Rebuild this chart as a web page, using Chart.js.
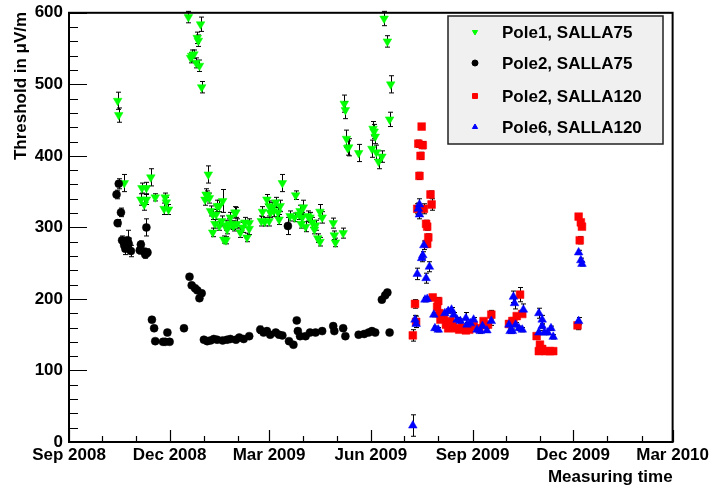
<!DOCTYPE html>
<html>
<head>
<meta charset="utf-8">
<script src="https://cdn.jsdelivr.net/npm/chart.js@4.4.0/dist/chart.umd.min.js"></script>
<style>
html, body { margin: 0; padding: 0; background: #fff; }
canvas { display: block; }
</style>
</head>
<body>
<canvas id="c" width="714" height="490"></canvas>
<script>
// Axis labels on the time axis (major ticks every three months)
const tickDates  = ['2008-09-01', '2008-12-01', '2009-03-01', '2009-06-01', '2009-09-01', '2009-12-01', '2010-03-01'];
const tickLabels = ['Sep 2008', 'Dec 2008', 'Mar 2009', 'Jun 2009', 'Sep 2009', 'Dec 2009', 'Mar 2010'];
const yTicks = [0, 100, 200, 300, 400, 500, 600];

// Pole1, SALLA75
const p1Dates = ['2008-10-15','2008-10-16','2008-10-21','2008-11-05','2008-11-06','2008-11-08','2008-11-10','2008-11-10','2008-11-14','2008-11-18','2008-11-26','2008-11-27','2008-11-28','2008-11-30',
  '2008-12-18','2008-12-20','2008-12-21','2008-12-23','2008-12-25','2008-12-26','2008-12-27','2008-12-28','2008-12-29','2008-12-30',
  '2009-01-02','2009-01-03','2009-01-04','2009-01-05','2009-01-06','2009-01-07','2009-01-09','2009-01-09','2009-01-11','2009-01-12','2009-01-13','2009-01-15','2009-01-15','2009-01-17','2009-01-18','2009-01-19','2009-01-21','2009-01-21','2009-01-22','2009-01-24','2009-01-25','2009-01-27','2009-01-28','2009-01-29','2009-01-30','2009-01-31',
  '2009-02-03','2009-02-05','2009-02-07','2009-02-09','2009-02-11','2009-02-11','2009-02-22','2009-02-23','2009-02-25','2009-02-27',
  '2009-03-01','2009-03-01','2009-03-02','2009-03-04','2009-03-05','2009-03-07','2009-03-09','2009-03-10','2009-03-11','2009-03-13','2009-03-20','2009-03-24','2009-03-25','2009-03-28','2009-03-29','2009-03-30','2009-03-31',
  '2009-04-01','2009-04-03','2009-04-05','2009-04-07','2009-04-09','2009-04-11','2009-04-12','2009-04-14','2009-04-16','2009-04-16','2009-04-18','2009-04-28','2009-04-29','2009-04-30',
  '2009-05-07','2009-05-08','2009-05-09','2009-05-10','2009-05-11','2009-05-12','2009-05-21',
  '2009-06-02','2009-06-03','2009-06-04','2009-06-05','2009-06-06','2009-06-08','2009-06-11','2009-06-13','2009-06-16','2009-06-18','2009-06-19'];
const p1Values = [477,457,362,339,355,332,355,339,370,342,326,342,335,325,
  594,537,540,542,530,565,561,526,584,496,
  339,346,344,374,341,323,318,293,305,318,330,302,330,309,337,283,282,303,297,305,314,303,302,321,321,305,
  293,300,307,286,298,306,309,322,308,339,
  309,330,321,328,323,335,321,311,330,362,316,314,345,318,323,305,314,
  328,301,316,314,307,297,303,285,280,322,314,306,289,279,
  292,473,464,424,411,412,404,
  410,438,434,427,405,392,399,592,560,451,500];
const p1Errors = [12,10,12,8,7,8,8,7,12,5,8,6,7,7,
  8,7,8,6,7,8,8,8,10,8,
  8,8,7,12,7,7,7,6,6,7,8,6,8,7,16,5,5,7,6,7,7,6,7,8,7,7,
  7,7,7,6,8,6,7,7,6,7,
  7,7,7,7,8,7,7,7,8,12,7,6,6,7,8,6,7,
  10,7,7,7,7,6,7,6,6,10,8,7,6,6,
  7,12,12,12,10,12,12,
  12,10,10,10,10,10,8,10,8,10,12];

// Pole2, SALLA75
const p2Dates = ['2008-10-14','2008-10-15','2008-10-16','2008-10-18','2008-10-19','2008-10-21','2008-10-22','2008-10-24','2008-10-25','2008-10-27',
  '2008-11-04','2008-11-05','2008-11-08','2008-11-09','2008-11-10','2008-11-11','2008-11-15','2008-11-17','2008-11-18','2008-11-25','2008-11-27','2008-11-29',
  '2008-12-01','2008-12-14','2008-12-19','2008-12-21','2008-12-24','2008-12-26','2008-12-28','2008-12-30',
  '2009-01-01','2009-01-04','2009-01-07','2009-01-10','2009-01-13','2009-01-18','2009-01-22','2009-01-25','2009-01-30',
  '2009-02-02','2009-02-06','2009-02-11','2009-02-21','2009-02-24','2009-02-27',
  '2009-03-02','2009-03-07','2009-03-10','2009-03-13','2009-03-18','2009-03-19','2009-03-23','2009-03-26','2009-03-27','2009-03-29',
  '2009-04-03','2009-04-07','2009-04-12','2009-04-18','2009-04-28','2009-04-29',
  '2009-05-07','2009-05-09','2009-05-21','2009-05-26','2009-05-30',
  '2009-06-02','2009-06-05','2009-06-11','2009-06-14','2009-06-16','2009-06-18'];
const p2Values = [346,306,361,321,282,275,270,282,277,267,
  268,276,266,262,300,265,171,159,141,140,140,153,
  140,159,231,219,215,212,201,208,
  143,141,142,144,143,142,143,144,143,
  146,144,148,157,153,155,
  150,153,150,149,302,141,136,170,155,148,
  148,153,153,155,162,155,
  159,148,150,151,153,
  155,153,199,205,209,153];
const p2Errors = [6,5,7,6,6,8,8,14,8,8,
  5,5,5,5,12,5,2,2,2,2,2,2,
  2,2,2,2,2,2,2,2,
  2,2,2,2,2,2,2,2,2,
  2,2,2,5,3,2,
  2,2,2,2,12,2,2,2,2,2,
  2,2,2,2,2,2,
  2,2,2,2,2,
  2,2,3,3,3,2];

// Pole2, SALLA120
const p3Dates = ['2009-07-09','2009-07-11','2009-07-12','2009-07-13','2009-07-14','2009-07-15','2009-07-16','2009-07-17','2009-07-18','2009-07-19','2009-07-21','2009-07-22','2009-07-22','2009-07-23','2009-07-25','2009-07-26','2009-07-27','2009-07-31',
  '2009-08-01','2009-08-02','2009-08-03','2009-08-06','2009-08-08','2009-08-10','2009-08-12','2009-08-14','2009-08-17','2009-08-20','2009-08-23','2009-08-26','2009-08-29',
  '2009-09-02','2009-09-07','2009-09-11','2009-09-15','2009-09-18',
  '2009-10-04','2009-10-07','2009-10-08','2009-10-11','2009-10-14','2009-10-16','2009-10-29','2009-10-31',
  '2009-11-01','2009-11-03','2009-11-06','2009-11-10','2009-11-13',
  '2009-12-05','2009-12-06','2009-12-07','2009-12-08','2009-12-09'];
const p3Values = [149,193,168,326,417,372,400,441,415,326,305,301,277,286,346,332,202,189,
  197,180,171,173,164,159,169,162,159,157,160,156,157,
  162,159,169,164,178,
  165,169,169,176,206,179,148,127,
  136,130,127,127,127,
  163,315,282,307,301];
const p3Errors = [8,6,8,7,5,5,5,3,5,7,5,5,5,5,5,8,4,5,
  5,4,3,3,3,3,3,3,3,3,3,3,3,
  3,3,3,3,6,
  3,3,3,3,10,3,3,2,
  2,2,2,2,2,
  6,3,5,3,3];

// Pole6, SALLA120
const p4Dates = ['2009-07-09','2009-07-11','2009-07-12','2009-07-13','2009-07-14','2009-07-15','2009-07-15','2009-07-17','2009-07-18','2009-07-19','2009-07-20','2009-07-21','2009-07-22','2009-07-24','2009-07-28','2009-07-29',
  '2009-08-01','2009-08-07','2009-08-10','2009-08-13','2009-08-15','2009-08-18','2009-08-21','2009-08-26','2009-08-27','2009-08-30',
  '2009-09-02','2009-09-05','2009-09-08','2009-09-10','2009-09-14','2009-09-18',
  '2009-10-04','2009-10-05','2009-10-07','2009-10-08','2009-10-09','2009-10-10','2009-10-13','2009-10-16','2009-10-17','2009-10-31','2009-10-31',
  '2009-11-03','2009-11-03','2009-11-05','2009-11-08','2009-11-11','2009-11-13',
  '2009-12-06','2009-12-06','2009-12-08','2009-12-09'];
const p4Values = [23,171,165,235,326,332,318,257,261,275,199,229,200,245,178,159,
  157,180,183,185,178,171,169,173,164,166,
  171,157,155,162,156,169,
  164,155,155,203,194,164,159,157,185,153,180,
  171,162,153,153,159,147,
  169,265,254,249];
const p4Errors = [15,6,5,8,8,8,6,5,5,6,3,7,3,7,3,3,
  3,3,3,3,3,3,3,8,3,3,
  3,3,3,3,3,6,
  3,3,3,8,8,3,3,3,8,3,7,
  6,3,3,3,3,3,
  5,3,3,3];

const dayOf = s => (Date.parse(s) - Date.parse('2008-09-01')) / 864e5;
const FONT = '"Liberation Sans", Arial, Helvetica, sans-serif';

const series = [
  { label: 'Pole1, SALLA75',  dates: p1Dates, values: p1Values, errors: p1Errors, color: '#00ff00', style: 'triangle', rotation: 180, radius: 5,   order: 3 },
  { label: 'Pole2, SALLA75',  dates: p2Dates, values: p2Values, errors: p2Errors, color: '#000000', style: 'circle',   rotation: 0,   radius: 4,   order: 2 },
  { label: 'Pole2, SALLA120', dates: p3Dates, values: p3Values, errors: p3Errors, color: '#ff0000', style: 'rect',     rotation: 0,   radius: 5.5, order: 1 },
  { label: 'Pole6, SALLA120', dates: p4Dates, values: p4Values, errors: p4Errors, color: '#0000ff', style: 'triangle', rotation: 0,   radius: 5,   order: 0 }
];

// Vertical error bars with small caps, drawn under the markers
const errorBars = {
  id: 'errorBars',
  beforeDatasetsDraw(chart) {
    const { ctx, scales: { x, y } } = chart;
    ctx.save();
    ctx.strokeStyle = '#000';
    ctx.lineWidth = 1;
    series.forEach(s => {
      s.dates.forEach((d, i) => {
        const px = Math.round(x.getPixelForValue(dayOf(d))) + 0.5;
        const lo = y.getPixelForValue(s.values[i] - s.errors[i]);
        const hi = y.getPixelForValue(s.values[i] + s.errors[i]);
        ctx.beginPath();
        ctx.moveTo(px, lo); ctx.lineTo(px, hi);
        ctx.moveTo(px - 2.5, lo); ctx.lineTo(px + 2.5, lo);
        ctx.moveTo(px - 2.5, hi); ctx.lineTo(px + 2.5, hi);
        ctx.stroke();
      });
    });
    ctx.restore();
  }
};

// Frame, inward ticks, axis titles and legend box
const frame = {
  id: 'frame',
  afterDraw(chart) {
    const { ctx, chartArea: a, scales: { x, y } } = chart;
    ctx.save();
    ctx.strokeStyle = '#000';
    ctx.lineWidth = 1.2;
    ctx.beginPath();
    // y ticks: major every 100, minor every 20
    for (let v = 0; v <= 600; v += 20) {
      const py = Math.round(y.getPixelForValue(v)) + 0.5;
      const len = v % 100 === 0 ? 18 : 9;
      ctx.moveTo(a.left, py); ctx.lineTo(a.left + len, py);
    }
    // x ticks: one per month, longer every three months
    const majors = tickDates.map(dayOf);
    for (let yr = 2008, m = 8; yr < 2010 || m <= 2; m++) {
      if (m > 11) { m = 0; yr++; }
      const day = (Date.UTC(yr, m, 1) - Date.UTC(2008, 8, 1)) / 864e5;
      const px = Math.round(x.getPixelForValue(day)) + 0.5;
      const len = majors.includes(day) ? 12 : 6;
      ctx.moveTo(px, a.bottom); ctx.lineTo(px, a.bottom - len);
      if (yr === 2010 && m === 2) break;
    }
    ctx.stroke();

    ctx.lineWidth = 2;
    ctx.strokeRect(a.left, a.top, a.right - a.left, a.bottom - a.top);

    // axis titles
    ctx.fillStyle = '#000';
    ctx.font = 'bold 17px ' + FONT;
    ctx.textAlign = 'right';
    ctx.textBaseline = 'middle';
    ctx.fillText('Measuring time', a.right, 477);
    ctx.translate(21, a.top - 1);
    ctx.rotate(-Math.PI / 2);
    ctx.fillText('Threshold in \u03bcV/m', 0, 0);
    ctx.setTransform(1, 0, 0, 1, 0, 0);

    // legend
    const lx = 448, ly = 16, lw = 215, lh = 128;
    ctx.fillStyle = '#f0f0f0';
    ctx.fillRect(lx, ly, lw, lh);
    ctx.lineWidth = 1.5;
    ctx.strokeStyle = '#222';
    ctx.strokeRect(lx, ly, lw, lh);
    const rows = [32, 63, 96, 127];
    ctx.textAlign = 'left';
    series.forEach((s, i) => {
      ctx.fillStyle = s.color;
      ctx.strokeStyle = s.color;
      ctx.lineWidth = 1;
      Chart.helpers.drawPoint(ctx, { pointStyle: s.style, rotation: s.rotation, radius: s.style === 'rect' ? 3.5 : 3, borderWidth: 1 }, 475, rows[i]);
      ctx.fillStyle = '#000';
      ctx.fillText(s.label, 502, rows[i] + 1);
    });
    ctx.restore();
  }
};

new Chart(document.getElementById('c'), {
  type: 'scatter',
  data: {
    datasets: series.map(s => ({
      label: s.label,
      data: s.dates.map((d, i) => ({ x: dayOf(d), y: s.values[i] })),
      pointStyle: s.style,
      rotation: s.rotation,
      pointRadius: s.radius,
      pointBackgroundColor: s.color,
      pointBorderColor: s.color,
      pointBorderWidth: 0.5,
      order: s.order
    }))
  },
  options: {
    responsive: false,
    animation: false,
    devicePixelRatio: 1,
    events: [],
    layout: { padding: { left: 0, right: 39, top: 7, bottom: 0 } },
    plugins: { legend: { display: false }, tooltip: { enabled: false } },
    scales: {
      x: {
        type: 'linear',
        min: dayOf(tickDates[0]),
        max: dayOf(tickDates[tickDates.length - 1]),
        grid: { display: false, drawTicks: false },
        border: { display: false },
        afterBuildTicks(scale) { scale.ticks = tickDates.map(d => ({ value: dayOf(d) })); },
        afterFit(scale) { scale.height = 48; },
        ticks: {
          autoSkip: false, maxRotation: 0, minRotation: 0, padding: 5, color: '#000',
          font: { family: FONT, weight: 'bold', size: 17, lineHeight: 1 },
          callback: (v, i) => tickLabels[i]
        }
      },
      y: {
        min: 0, max: 600,
        grid: { display: false, drawTicks: false },
        border: { display: false },
        afterBuildTicks(scale) { scale.ticks = yTicks.map(v => ({ value: v })); },
        afterFit(scale) { scale.width = 69; },
        ticks: {
          padding: 6, color: '#000',
          font: { family: FONT, weight: 'bold', size: 17, lineHeight: 0.8 }
        }
      }
    }
  },
  plugins: [errorBars, frame]
});
</script>
</body>
</html>
